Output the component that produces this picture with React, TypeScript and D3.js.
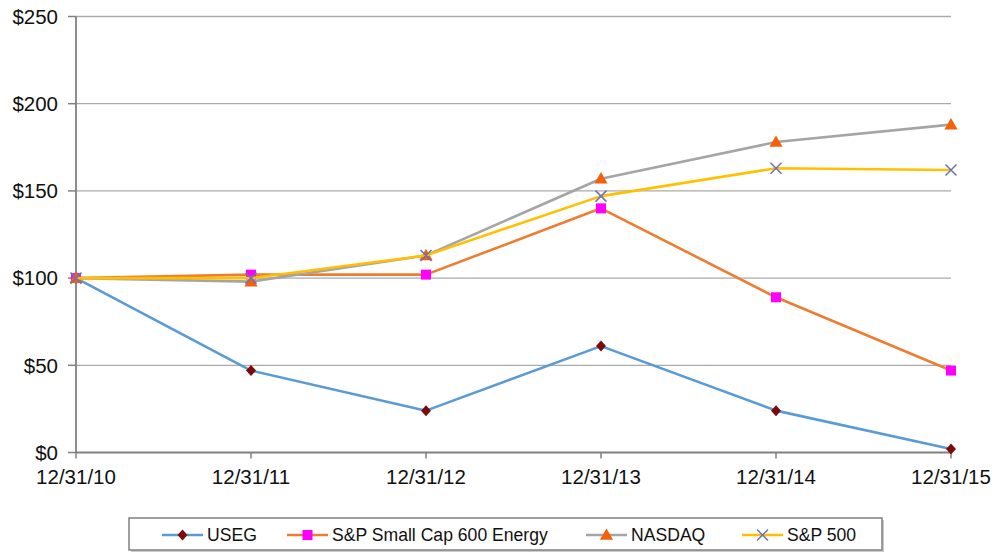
import * as d3 from 'd3'

const dates = ['12/31/10', '12/31/11', '12/31/12', '12/31/13', '12/31/14', '12/31/15']
const yTicks = [0, 50, 100, 150, 200, 250]

const useg = [100, 47, 24, 61, 24, 2]
const smallCapEnergy = [100, 102, 102, 140, 89, 47]
const nasdaq = [100, 98, 113, 157, 178, 188]
const sp500 = [100, 100, 113, 147, 163, 162]

type Marker = 'diamond' | 'square' | 'triangle' | 'cross'

const series: { name: string; values: number[]; line: string; marker: Marker; markerColor: string }[] = [
  { name: 'USEG', values: useg, line: '#5b9bd5', marker: 'diamond', markerColor: '#7b0a0a' },
  { name: 'S&P Small Cap 600 Energy', values: smallCapEnergy, line: '#ed7d31', marker: 'square', markerColor: '#ff00ff' },
  { name: 'NASDAQ', values: nasdaq, line: '#a5a5a5', marker: 'triangle', markerColor: '#f5600a' },
  { name: 'S&P 500', values: sp500, line: '#ffc000', marker: 'cross', markerColor: '#6b70b8' },
]

const W = 1000
const H = 552
const FONT = '"Liberation Sans", Arial, sans-serif'

function MarkerShape({ kind, color, x, y }: { kind: Marker; color: string; x: number; y: number }) {
  if (kind === 'cross') {
    const r = 5.5
    return (
      <path
        d={`M${x - r},${y - r}L${x + r},${y + r}M${x - r},${y + r}L${x + r},${y - r}`}
        stroke={color}
        strokeWidth={1.5}
        fill="none"
      />
    )
  }
  if (kind === 'square') return <rect x={x - 5} y={y - 5} width={10} height={10} fill={color} />
  if (kind === 'diamond') {
    return <path d={`M${x},${y - 5.5}L${x + 5},${y}L${x},${y + 5.5}L${x - 5},${y}Z`} fill={color} />
  }
  const p = d3.symbol(d3.symbolTriangle, 75)() ?? ''
  return <path d={p} transform={`translate(${x},${y + 1})`} fill={color} />
}

export default function App() {
  const x = d3.scalePoint<string>().domain(dates).range([76, 951])
  const y = d3.scaleLinear().domain([0, 250]).range([452.5, 16.5])

  const line = d3
    .line<number>()
    .x((_, i) => x(dates[i]) as number)
    .y((d) => y(d))

  const legendX = [162, 287, 586, 742]

  return (
    <svg width={W} height={H} style={{ position: 'absolute', left: 0, top: 0, background: '#fff' }} fontFamily={FONT}>
      {/* gridlines */}
      {yTicks.map((t) => (
        <g key={t}>
          {t > 0 && <line x1={76} x2={951} y1={y(t)} y2={y(t)} stroke="#aaaaaa" strokeWidth={1.3} />}
          <line x1={68} x2={76} y1={y(t)} y2={y(t)} stroke="#808080" strokeWidth={1.5} />
          <text x={58} y={y(t)} dy="0.36em" textAnchor="end" fontSize={20.5} fill="#111">
            ${t}
          </text>
        </g>
      ))}

      {/* axes */}
      <line x1={76} x2={76} y1={y(250)} y2={y(0)} stroke="#808080" strokeWidth={1.8} />
      <line x1={76} x2={951} y1={y(0)} y2={y(0)} stroke="#808080" strokeWidth={1.8} />
      {dates.map((d) => (
        <g key={d}>
          <line x1={x(d)} x2={x(d)} y1={y(0)} y2={y(0) + 6} stroke="#808080" strokeWidth={1.5} />
          <text x={x(d)} y={484} textAnchor="middle" fontSize={20.5} fill="#111">
            {d}
          </text>
        </g>
      ))}

      {/* series */}
      {series.map((s) => (
        <g key={s.name}>
          <path d={line(s.values) ?? ''} fill="none" stroke={s.line} strokeWidth={2.6} strokeLinejoin="round" />
          {s.values.map((v, i) => (
            <MarkerShape key={i} kind={s.marker} color={s.markerColor} x={x(dates[i]) as number} y={y(v)} />
          ))}
        </g>
      ))}

      {/* legend */}
      <rect x={131} y={520} width={753} height={32} fill="#9a9a9a" opacity={0.5} />
      <rect x={129} y={518} width={753} height={32} fill="#fff" stroke="#808080" strokeWidth={1.5} />
      {series.map((s, i) => (
        <g key={s.name}>
          <line x1={legendX[i]} x2={legendX[i] + 41} y1={535} y2={535} stroke={s.line} strokeWidth={2.6} />
          <MarkerShape kind={s.marker} color={s.markerColor} x={legendX[i] + 20.5} y={535} />
          <text x={legendX[i] + 45} y={541} fontSize={17.6} fill="#111">
            {s.name}
          </text>
        </g>
      ))}
    </svg>
  )
}
